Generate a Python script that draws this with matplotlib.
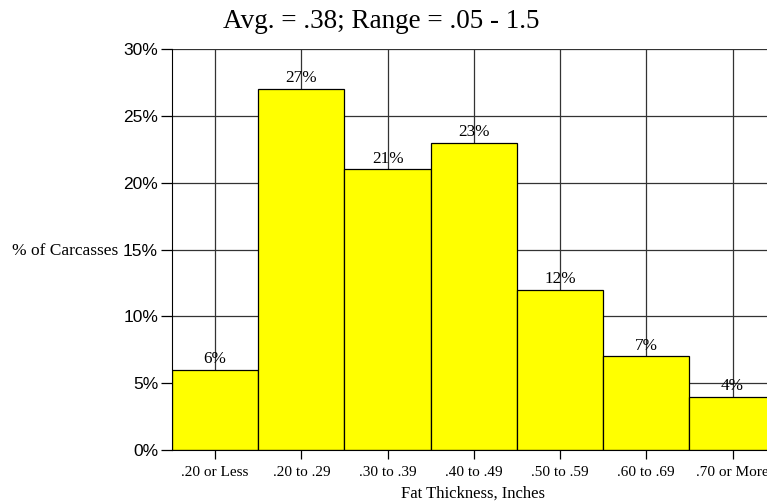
import matplotlib
matplotlib.use("Agg")
import matplotlib.pyplot as plt
from matplotlib.ticker import FuncFormatter, MultipleLocator

categories = [".20 or Less", ".20 to .29", ".30 to .39", ".40 to .49",
              ".50 to .59", ".60 to .69", ".70 or More"]
values = [6, 27, 21, 23, 12, 7, 4]
title = "Avg. = .38; Range = .05 - 1.5"

fig = plt.figure(figsize=(7.67, 5.03), dpi=100)
ax = fig.add_axes([172/767, 1 - 450/503, 1 - 172/767, (450 - 49)/503])

x = list(range(len(categories)))
ax.set_axisbelow(True)
ax.grid(True, color="#333333", linewidth=0.9)
bars = ax.bar(x, values, width=1.0, color="#FFFF00", edgecolor="black", linewidth=0.9, zorder=2)
for xi, v in zip(x, values):
    ax.text(xi, v + 0.2, f"{v}%", ha="center", va="bottom", fontsize=12.3,
            family="Liberation Serif", zorder=1)

ax.set_xlim(-0.5, 6.4)
ax.set_ylim(0, 30)
ax.yaxis.set_major_locator(MultipleLocator(5))
ax.yaxis.set_major_formatter(FuncFormatter(lambda v, p: f"{int(v)}%"))
ax.set_xticks(x)
ax.set_xticklabels(categories)
ax.tick_params(axis="y", length=8, width=0.9, pad=2, direction="out")
ax.tick_params(axis="x", length=6.5, width=0.9, pad=5, direction="out")
for lab in ax.get_xticklabels():
    lab.set_family("Liberation Serif")
    lab.set_fontsize(11)
for lab in ax.get_yticklabels():
    lab.set_family("Liberation Sans")
    lab.set_fontsize(12.5)
ax.spines["right"].set_visible(False)
ax.spines["top"].set_visible(False)

fig.text(473/767, 1 - 494/503, "Fat Thickness, Inches", ha="center", va="center",
         family="Liberation Serif", fontsize=12)
fig.text(118/767, 1 - 251/503, "% of Carcasses", ha="right", va="center",
         family="Liberation Serif", fontsize=12.5)
fig.text(381/767, 1 - 22/503, title, ha="center", va="center",
         family="Liberation Serif", fontsize=19.5)

fig.savefig("out.png", dpi=100)
